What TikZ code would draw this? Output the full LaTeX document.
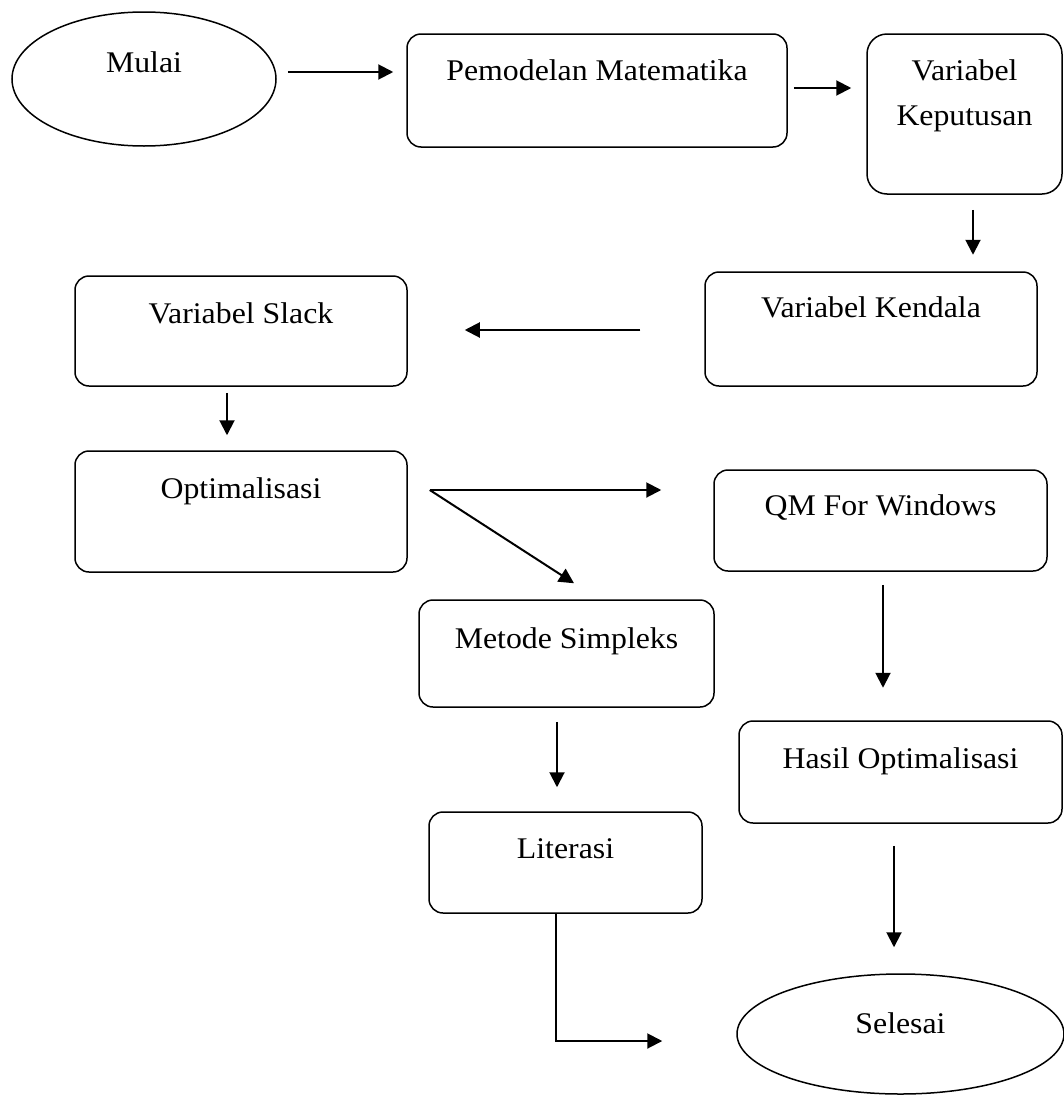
\documentclass[tikz,border=0pt]{standalone}
\usepackage{fontspec}
\setmainfont{Liberation Serif}[FakeStretch=1.06]
\usetikzlibrary{calc}
\usetikzlibrary{shapes.geometric}
\usetikzlibrary{arrows.meta}
\tikzset{
	% Two node styles for the flow chart: rounded box and oval
	process box/.style={rectangle,rounded corners=14pt,draw,line width=1.5pt,inner sep=0,align=center},
	terminal node/.style={ellipse,draw,line width=1.5pt,inner sep=0},
	flow line/.style={line width=2pt,-{Triangle[length=15pt,width=15pt]}}
}
\begin{document}
\begin{tikzpicture}[x=1pt,y=-1pt,font=\fontsize{30}{45}\selectfont]
			\useasboundingbox (0,0) rectangle (1064,1095);
			% start and end
			\node(mulai)[terminal node,minimum width=264pt,minimum height=134pt,text height=15pt,text depth=29pt] at (144,79) {Mulai};
			\node(selesai)[terminal node,minimum width=327pt,minimum height=120pt,text height=15pt,text depth=17pt] at (900.5,1034) {Selesai};
			
			% process boxes
			\node(pemodelan)[process box,minimum width=380pt,text height=46pt,text depth=67pt] at (597,90.5) {Pemodelan Matematika};
			\node(keputusan)[process box,rounded corners=20pt,minimum width=195pt,text height=91pt,text depth=69pt] at (964.5,114) {Variabel\\Keputusan};
			\node(kendala)[process box,minimum width=332pt,text height=45pt,text depth=69pt] at (871,329) {Variabel Kendala};
			\node(slack)[process box,minimum width=332pt,text height=47pt,text depth=63pt] at (241,331) {Variabel Slack};
			\node(optimal)[process box,minimum width=332pt,text height=47pt,text depth=74pt] at (241,511.5) {Optimalisasi};
			\node(qm)[process box,minimum width=333pt,text height=45pt,text depth=56pt] at (880.5,520.5) {QM For Windows};
			\node(simpleks)[process box,minimum width=295pt,text height=48pt,text depth=59pt] at (566.5,653.5) {Metode Simpleks};
			\node(hasil)[process box,minimum width=323pt,text height=47pt,text depth=55pt] at (900.5,772) {Hasil Optimalisasi};
			\node(literasi)[process box,minimum width=273pt,text height=46pt,text depth=55pt] at (565.5,862.5) {Literasi};
			
			% connectors
			\draw[flow line]($(mulai.east)+(11,-7)$)--($(pemodelan.west|-mulai.east)+(-13,-7)$);
			\draw[flow line]($(pemodelan.east)+(6,-2.5)$)--($(keputusan.west|-pemodelan.east)+(-15,-2.5)$);
			\draw[flow line]($(keputusan.south)+(8.5,15)$)--($(keputusan.south)+(8.5,60)$);
			\draw[flow line]($(kendala.west)+(-64,1)$)--($(slack.east|-kendala.west)+(57,1)$);
			\draw[flow line]($(slack.south)+(-14,6)$)--($(optimal.north)+(-14,-15)$);
			\draw[flow line]($(optimal.east)+(22,-21.5)$)--($(qm.west|-optimal.east)+(-52,-21.5)$);
			\draw[flow line]($(optimal.east)+(22,-21.5)$)--($(simpleks.north)+(7.5,-16)$);
			\draw[flow line]($(qm.south)+(2.5,13)$)--($(qm.south)+(2.5,116)$);
			\draw[flow line]($(simpleks.south)+(-9.5,14)$)--($(literasi.north)+(-8.5,-24)$);
			\draw[flow line]($(hasil.south)+(-6.5,22)$)--($(selesai.north)+(-6.5,-26)$);
			\draw[flow line]($(literasi.south)+(-9.5,0)$)|-($(selesai.west)+(-74,7)$);
\end{tikzpicture}
\end{document}
